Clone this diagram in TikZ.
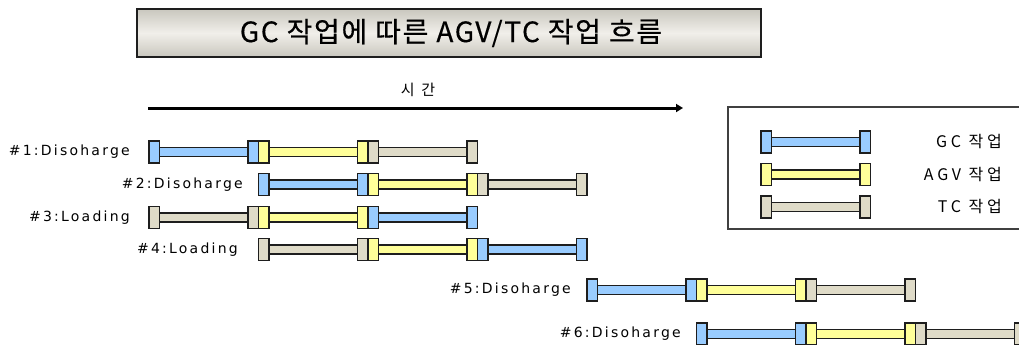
\documentclass[tikz,border=0pt]{standalone}
\usepackage{fontspec}
\setmainfont{Noto Sans CJK KR}
\newfontfamily\labfont[LetterSpace=16]{DejaVu Sans}
\newfontfamily\legfont[LetterSpace=24]{Noto Sans CJK KR}
\newfontfamily\timefont[LetterSpace=45]{Noto Sans CJK KR}
\newfontfamily\titlefont[LetterSpace=6, FakeBold=0.4]{Noto Sans CJK KR}
\usetikzlibrary{arrows.meta}
\definecolor{gcblue}{HTML}{99CCFF}
\definecolor{agvyellow}{HTML}{FFFF99}
\definecolor{tctan}{HTML}{DFDBC8}
\definecolor{edgec}{HTML}{1E1E1E}
\definecolor{titledark}{HTML}{C9C7BE}
\definecolor{titlelight}{HTML}{F1EFEA}
\tikzset{
  segline/.style={draw=edgec, line width=1.3pt},
  rowlabel/.style={anchor=east, inner sep=0pt, font=\labfont\fontsize{14}{16}\selectfont},
  leglabel/.style={anchor=east, inner sep=0pt, font=\legfont\fontsize{16}{18}\selectfont},
}
% #1 x start, #2 y centre, #3 fill colour
\newcommand\taskseg[3]{%
  \filldraw[segline, fill=#3] (#1+10,#2-4.5) rectangle (#1+99.5,#2+4.5);
  \filldraw[segline, fill=#3] (#1,#2-11) rectangle (#1+10.5,#2+11);
  \filldraw[segline, fill=#3] (#1+99,#2-11) rectangle (#1+109.5,#2+11);
}
\begin{document}
\begin{tikzpicture}[x=1pt, y=-1pt]
\useasboundingbox (0,0) rectangle (1019,345);
\fill[white] (0,0) rectangle (1019,345);
% title
\shade[top color=titledark, bottom color=titledark, middle color=titlelight] (137,9) rectangle (761,57);
\draw[edgec, line width=1.6pt] (137,9) rectangle (761,57);
\node[inner sep=0pt, font=\titlefont\fontsize{28}{32}\selectfont] (title) at (451,33) {GC 작업에 따른 AGV/TC 작업 흐름};
% time arrow
\coordinate (tstart) at (148,108);
\coordinate (tend) at (683,108);
\draw[line width=3pt, -{Triangle[length=7pt, width=8pt]}] (tstart) -- (tend);
\node[inner sep=0pt, font=\timefont\fontsize{15}{17}\selectfont] (time) at (418,90) {시간};
% legend
\draw[edgec!85, line width=1.3pt] (1025,107) -- (728,107) -- (728,229) -- (1025,229);
\taskseg{761}{142}{gcblue}
\taskseg{761}{174.5}{agvyellow}
\taskseg{761}{207}{tctan}
\node[leglabel] (lgc) at (1002,142) {GC 작업};
\node[leglabel] (lagv) at (1002,174.5) {AGV 작업};
\node[leglabel] (ltc) at (1002,207) {TC 작업};
% rows
\taskseg{149}{152}{gcblue}\taskseg{258.5}{152}{agvyellow}\taskseg{368}{152}{tctan}
\node[rowlabel] (r1) at (130,152) {\#1:Disoharge};
\taskseg{258.5}{184.5}{gcblue}\taskseg{368}{184.5}{agvyellow}\taskseg{477.5}{184.5}{tctan}
\node[rowlabel] (r2) at (243,184.5) {\#2:Disoharge};
\taskseg{149}{217.5}{tctan}\taskseg{258.5}{217.5}{agvyellow}\taskseg{368}{217.5}{gcblue}
\node[rowlabel] (r3) at (130,217.5) {\#3:Loading};
\taskseg{258.5}{249.5}{tctan}\taskseg{368}{249.5}{agvyellow}\taskseg{477.5}{249.5}{gcblue}
\node[rowlabel] (r4) at (238,249.5) {\#4:Loading};
\taskseg{587}{290}{gcblue}\taskseg{696.5}{290}{agvyellow}\taskseg{806}{290}{tctan}
\node[rowlabel] (r5) at (571,290) {\#5:Disoharge};
\taskseg{696.5}{334}{gcblue}\taskseg{806}{334}{agvyellow}\taskseg{915.5}{334}{tctan}
\node[rowlabel] (r6) at (681,334) {\#6:Disoharge};
\end{tikzpicture}
\end{document}
